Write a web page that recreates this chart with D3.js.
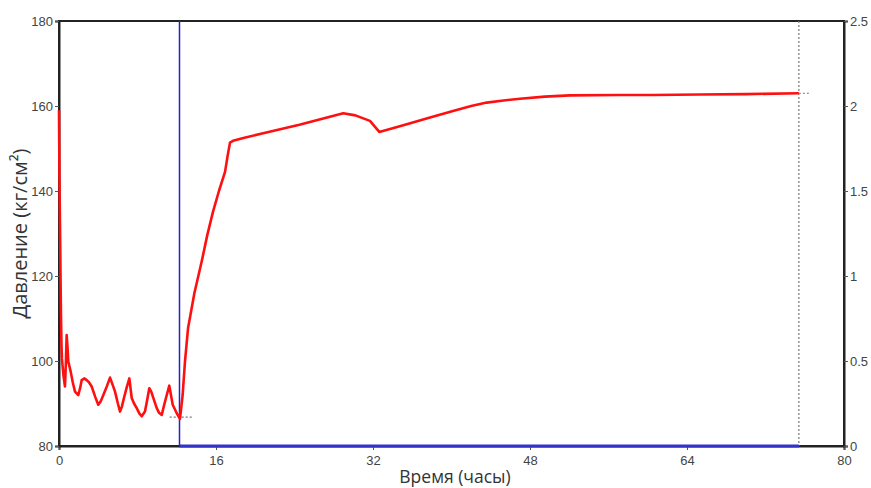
<!DOCTYPE html>
<html>
<head>
<meta charset="utf-8">
<script src="https://cdn.jsdelivr.net/npm/d3@7"></script>
<style>
  body { margin: 0; background: #fff; }
  svg { display: block; }
  .tick text { font-family: "Liberation Sans Narrow", "Liberation Sans", Arial, sans-serif; font-size: 13px; fill: #444; }
</style>
</head>
<body>
<svg id="chart"></svg>
<script>
// time (hours) and pressure (kg/cm2)
const timeHours = [
  0, 0.02, 0.05, 0.08, 0.12, 0.16, 0.2, 0.25, 0.3, 0.45, 0.61, 0.7, 0.78, 0.86, 0.95, 1.19, 1.4, 1.63,
  1.97, 2.15, 2.31, 2.6, 2.82, 3.05, 3.33, 3.7, 4.0, 4.25, 4.52, 4.9, 5.2, 5.45, 5.71, 6.0, 6.22,
  6.4, 6.62, 6.9, 7.17, 7.41, 7.65, 7.92, 8.2, 8.43, 8.76, 9.0, 9.2, 9.4, 9.61, 9.96, 10.2, 10.47,
  10.7, 10.9, 11.24, 11.59, 12.0, 12.33,
  12.6, 12.84, 13.15, 13.8, 14.54, 15.1, 15.69, 16.3, 16.92, 17.2, 17.43, 17.73, 19.0, 20.48, 24.5,
  28.97, 30.2, 31.69, 32.64, 35.0, 37.81, 40.15, 42.0, 43.59, 45.3, 46.98, 49.5, 52.08, 57.1, 60.5,
  65.3, 70.0, 75.4
];
const pressure = [
  159, 152, 143, 136, 128, 119, 111, 104, 100.5, 96.7, 94.0, 99.5, 106.1, 103.5, 99.9, 97.5, 95.0, 92.8,
  92.0, 93.6, 95.5, 95.9, 95.5, 95.0, 94.0, 91.5, 89.7, 90.5, 92.0, 94.2, 96.1, 94.5, 92.8, 90.0, 88.1,
  89.2, 91.3, 93.8, 95.9, 91.3, 90.0, 88.9, 87.6, 87.0, 88.1, 91.0, 93.6, 92.8, 91.3, 88.9, 87.8, 87.3,
  89.5, 91.3, 94.2, 89.7, 87.7, 86.4,
  92.0, 99.9, 107.7, 116.0, 123.4, 129.5, 135.1, 140.0, 144.5, 148.5, 151.4, 151.8, 152.6, 153.4, 155.6,
  158.3, 157.8, 156.5, 153.9, 155.4, 157.3, 158.8, 160.0, 160.8, 161.3, 161.7, 162.2, 162.5, 162.6, 162.6,
  162.7, 162.8, 163.0
];

const xTicks = [0, 16, 32, 48, 64, 80];
const yTicks = [80, 100, 120, 140, 160, 180];
const rightTicks = [0, 0.5, 1, 1.5, 2, 2.5];

const startTime = 12.28;   // blue marker
const endTime = 75.4;      // dotted marker
const startLevel = 86.8;
const endLevel = 163.0;

const width = 871, height = 488;
const margin = { top: 21, right: 27, bottom: 42, left: 59 };

const svg = d3.select("#chart").attr("width", width).attr("height", height);

const x = d3.scaleLinear().domain([0, 80]).range([margin.left, width - margin.right]);
const y = d3.scaleLinear().domain([80, 180]).range([height - margin.bottom, margin.top]);
const y2 = d3.scaleLinear().domain([0, 2.5]).range([height - margin.bottom, margin.top]);

// frame
svg.append("rect")
  .attr("x", x(0)).attr("y", y(180))
  .attr("width", x(80) - x(0)).attr("height", y(80) - y(180))
  .attr("fill", "none").attr("stroke", "#222").attr("stroke-width", 2);

const bottom = svg.append("g")
  .attr("transform", `translate(0,${y(80)})`)
  .call(d3.axisBottom(x).tickValues(xTicks).tickSize(4).tickPadding(6));
const left = svg.append("g")
  .attr("transform", `translate(${x(0)},0)`)
  .call(d3.axisLeft(y).tickValues(yTicks).tickSize(4).tickPadding(2));
const right = svg.append("g")
  .attr("transform", `translate(${x(80)},0)`)
  .call(d3.axisRight(y2).tickValues(rightTicks).tickSize(4).tickPadding(2).tickFormat(d3.format("")));

[bottom, left, right].forEach(g => {
  g.select(".domain").attr("stroke", "#222").attr("stroke-width", 2);
  g.selectAll(".tick line").attr("stroke", "#555");
});
right.selectAll(".tick text").attr("fill", (d) => d === 1 || d === 1.5 ? "#446" : "#444");

// markers
const dotted = "2,2";
svg.append("line")
  .attr("x1", x(endTime)).attr("x2", x(endTime))
  .attr("y1", y(180)).attr("y2", y(80))
  .attr("stroke", "#777").attr("stroke-width", 1.2).attr("stroke-dasharray", dotted);
svg.append("line")
  .attr("x1", x(endTime)).attr("x2", x(endTime + 1.2))
  .attr("y1", y(endLevel)).attr("y2", y(endLevel))
  .attr("stroke", "#777").attr("stroke-width", 1.2).attr("stroke-dasharray", dotted);
svg.append("line")
  .attr("x1", x(startTime - 1)).attr("x2", x(startTime + 1.3))
  .attr("y1", y(startLevel)).attr("y2", y(startLevel))
  .attr("stroke", "#777").attr("stroke-width", 1.2).attr("stroke-dasharray", dotted);

svg.append("line")
  .attr("x1", x(startTime)).attr("x2", x(endTime))
  .attr("y1", y(80)).attr("y2", y(80))
  .attr("stroke", "#3333cc").attr("stroke-width", 3);
svg.append("line")
  .attr("x1", x(startTime)).attr("x2", x(startTime))
  .attr("y1", y(180)).attr("y2", y(80))
  .attr("stroke", "#2222cc").attr("stroke-width", 1.5);

// pressure curve
const pts = timeHours.map((t, i) => [t, pressure[i]]);
const line = d3.line().x(d => x(d[0])).y(d => y(d[1]));
svg.append("path")
  .datum(pts)
  .attr("fill", "none")
  .attr("stroke", "#ff1010")
  .attr("stroke-width", 2.6)
  .attr("stroke-linejoin", "round")
  .attr("d", line);

// axis titles
svg.append("text")
  .attr("transform", `translate(27,${(y(80) + y(180)) / 2}) rotate(-90)`)
  .attr("text-anchor", "middle")
  .attr("font-family", "'Open Sans', sans-serif")
  .attr("font-size", 20)
  .attr("fill", "#333")
  .text("Давление (кг/см²)");

svg.append("text")
  .attr("x", 455).attr("y", 483)
  .attr("text-anchor", "middle")
  .attr("font-family", "'Open Sans', sans-serif")
  .attr("font-size", 17.5)
  .attr("fill", "#333")
  .text("Время (часы)");
</script>
</body>
</html>
